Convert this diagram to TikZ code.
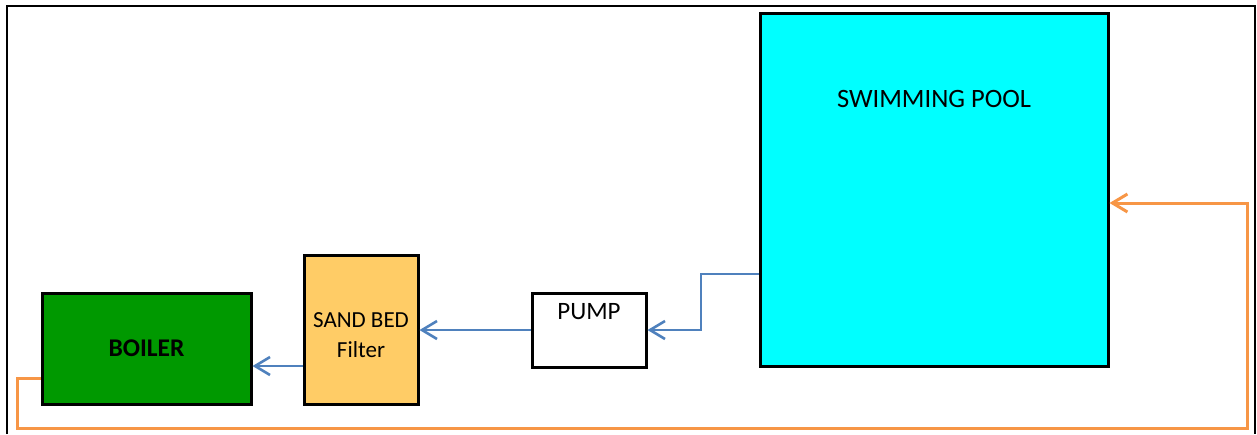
\documentclass[tikz,border=0pt]{standalone}
\usepackage{fontspec}
\setmainfont{Carlito}
\usepackage{tikz}
\usetikzlibrary{calc,arrows.meta}
\definecolor{poolcyan}{RGB}{0,255,255}
\definecolor{boilergreen}{RGB}{0,153,0}
\definecolor{sandbed}{RGB}{255,204,102}
\definecolor{flowblue}{RGB}{79,129,189}
\definecolor{returnorange}{RGB}{247,150,70}
\tikzset{
unit/.style={draw=black, line width=3pt, inner sep=0pt, font=\fontsize{25}{30}\selectfont},
flow/.style={draw=flowblue, line width=2.6pt, -{Straight Barb[length=15pt,width=18pt]}},
backflow/.style={draw=returnorange, line width=3pt, -{Straight Barb[length=15pt,width=18pt]}}
}

\begin{document}
\begin{tikzpicture}[x=1pt,y=-1pt]
\useasboundingbox (0,0) rectangle (1257,434);
\draw[line width=2.2pt] (7,434) -- (7,6) -- (1255,6) -- (1255,434);

\node[unit, fill=poolcyan, minimum width=348pt, minimum height=353pt,
  label={[yshift=-87pt,anchor=center,font=\fontsize{26.5}{30}\selectfont]north:SWIMMING POOL}] (pool) at (934,189.5) {};
\node[unit, fill=white, minimum width=114pt, minimum height=74pt,
  label={[yshift=-20pt,anchor=center,font=\fontsize{25}{30}\selectfont]north:PUMP}] (pump) at (589,330) {};
\node[unit, fill=sandbed, minimum width=114pt, minimum height=149pt,
  label={[yshift=-82pt,anchor=center,align=center,font=\fontsize{23}{30}\selectfont]north:SAND BED\\Filter}] (filter) at (361,329.5) {};
\node[unit, fill=boilergreen, minimum width=209pt, minimum height=111pt, font=\fontsize{25.5}{30}\selectfont\bfseries] (boiler) at (146.5,348.5) {BOILER};

% blue flow
\coordinate (poolout) at ([yshift=-84.5pt]pool.west);
\draw[flow] (poolout) -- (701,0 |- poolout) |- (pump.east);
\draw[flow] (pump.west) -- (pump.west -| filter.east);
\coordinate (filterout) at ([yshift=-36.5pt]filter.west);
\draw[flow] (filterout) -- (filterout -| boiler.east);

% orange return
\coordinate (boilerout) at ([yshift=27pt]boiler.south west);
\coordinate (poolin) at ([yshift=-13.5pt]pool.east);
\draw[backflow] (boilerout) -- (17,0 |- boilerout) -- (17,428) -- (1247,428) |- (poolin);
\end{tikzpicture}
\end{document}
